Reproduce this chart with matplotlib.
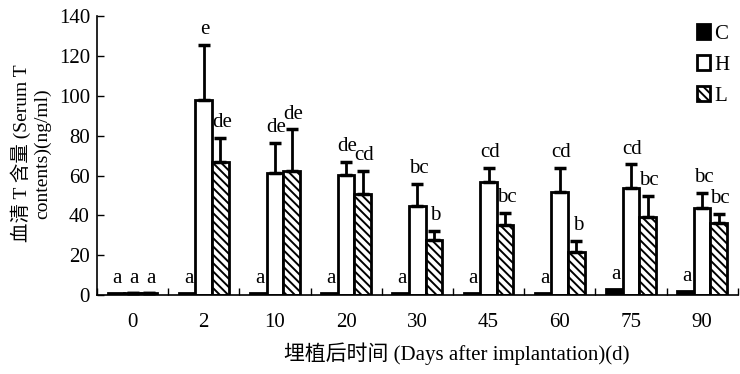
import numpy as np
import matplotlib
matplotlib.use('Agg')
from matplotlib import pyplot as plt

plt.rcParams['font.family'] = ['Liberation Serif', 'Noto Sans CJK SC']
plt.rcParams['hatch.linewidth'] = 1.4

days = ['0', '2', '10', '20', '30', '45', '60', '75', '90']
c_vals = [1, 1, 1, 1, 1, 1, 1, 3, 2]
h_vals = [1, 98, 61.5, 60.2, 44.8, 56.9, 51.5, 53.5, 43.5]
l_vals = [1, 67, 62.3, 50.5, 27.6, 35, 21.7, 39.3, 36.2]
c_err = [0, 0, 0, 0, 0, 0, 0, 0, 0]
h_err = [0, 27.5, 15, 6.7, 11, 7, 12.4, 12.2, 7.8]
l_err = [0, 12, 21, 11.8, 4.7, 6.2, 5.5, 10.4, 4.7]
c_sig = ['a'] * 9
h_sig = ['a', 'e', 'de', 'de', 'bc', 'cd', 'cd', 'cd', 'bc']
l_sig = ['a', 'de', 'de', 'cd', 'b', 'bc', 'b', 'bc', 'bc']

fs = 15

fig = plt.figure(figsize=(7.4, 3.74), dpi=100)
ax = fig.add_axes([0.131, 0.211, 0.866, 0.746])

x = np.arange(len(days))
w = 0.233
series = [
    ('C', c_vals, c_err, c_sig, dict(color='black')),
    ('H', h_vals, h_err, h_sig, dict(color='white')),
    ('L', l_vals, l_err, l_sig, dict(color='white', hatch='\\\\\\\\')),
]
for i, (name, vals, err, sig, style) in enumerate(series):
    pos = x + (i - 1) * w
    ax.bar(pos, vals, w, edgecolor='black', linewidth=2, label=name, zorder=2, **style)
    if any(err):
        ax.errorbar(pos, vals, yerr=[np.zeros(len(err)), err], fmt='none',
                    ecolor='black', elinewidth=2, capsize=4, capthick=2.5, zorder=3)
    for p, v, e, s in zip(pos, vals, err, sig):
        ax.annotate(s, (p, v + e), xytext=(1, 4), textcoords='offset points',
                    ha='center', va='bottom', fontsize=fs)

ax.set_xlim(-0.5, len(days) - 0.5)
ax.set_ylim(0, 140)
ax.set_yticks(np.arange(0, 141, 20))
ax.set_xticks(x)
ax.set_xticklabels(days, fontsize=fs)
ax.set_xticks(np.arange(-0.5, len(days), 1), minor=True)
ax.tick_params(axis='x', which='major', length=0, pad=13)
ax.tick_params(axis='x', which='minor', direction='in', length=5, width=1)
ax.tick_params(axis='y', direction='in', length=5, width=1, labelsize=fs, pad=5)
for side in ['top', 'right']:
    ax.spines[side].set_visible(False)
for side in ['left', 'bottom']:
    ax.spines[side].set_linewidth(1.2)

fig.text(0.028, 0.59, '血清 T 含量 (Serum T', rotation=90, ha='center', va='center', fontsize=14)
fig.text(0.058, 0.59, 'contents)(ng/ml)', rotation=90, ha='center', va='center', fontsize=14)
fig.text(0.617, 0.053, '埋植后时间 (Days after implantation)(d)', ha='center', va='center', fontsize=fs)

ax.legend(loc='upper right', bbox_to_anchor=(1.0, 1.0), frameon=False, fontsize=fs,
          handlelength=0.65, handleheight=0.7, handletextpad=0.2, labelspacing=0.55,
          borderaxespad=0)

fig.savefig('out.png', dpi=100)
